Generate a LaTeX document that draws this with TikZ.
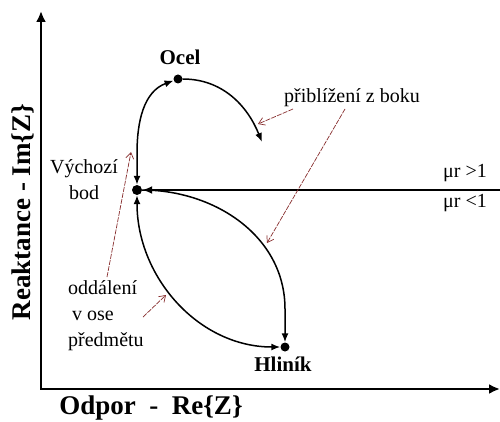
\documentclass[tikz,border=0pt]{standalone}
\usepackage{fontspec}
\setmainfont{Liberation Serif}
\usetikzlibrary{arrows.meta}
\definecolor{ptr}{RGB}{135,45,45}
\begin{document}
\begin{tikzpicture}[x=1pt,y=1pt,
  dot/.style={circle,fill=black,inner sep=0pt,minimum size=#1},
  dot/.default=9pt,
  curve/.style={line width=1.5pt},
  tip/.tip={Latex[length=9pt,width=7pt]},
  pointer/.style={draw=ptr,line width=0.7pt,dash pattern=on 5pt off 1.2pt,-{Straight Barb[length=6pt,width=8pt]}},
  lbl/.style={font=\fontsize{20}{26}\selectfont,inner sep=0pt},
  blbl/.style={font=\fontsize{21}{26}\selectfont\bfseries,inner sep=0pt},
  axlbl/.style={font=\fontsize{27}{30}\selectfont\bfseries,inner sep=0pt}
]
\useasboundingbox (0,0) rectangle (500,421);
% axes
\coordinate (org) at (41,32);
\coordinate (ytop) at (41,410);
\coordinate (xend) at (500,32);
\draw[line width=2.6pt,{Latex[length=11pt,width=10pt]}-{Latex[length=11pt,width=10pt]}] (ytop) -- (org) -- (xend);
% points
\node[dot=10pt] (S) at (137,231) {};
\node[dot] (O) at (178,342) {};
\node[dot] (H) at (285,74) {};
% mu_r line
\coordinate (rend) at (500,231);
\draw[line width=2.2pt,-{Latex[length=10pt,width=8pt]}] (rend) -- (S);
% curves
\coordinate (E1) at (262,279);
\coordinate (up1) at (137,268);
\coordinate (dn1) at (285,112);
\draw[curve,tip-tip] (O) to[out=200,in=90] (up1) -- (S);
\draw[curve,-tip] (O) to[out=0,in=112] (E1);
\draw[curve,tip-tip] (S) to[out=-90,in=180] (H);
\draw[curve,-tip] (S) to[out=0,in=90] (dn1) -- (H);
% labels
\node[blbl] (ocel) at (180,364) {Ocel};
\node[blbl,anchor=base] (hlinik) at (283,50) {Hliník};
\node[lbl] (pb) at (352,323) {přiblížení z boku};
\node[lbl,align=center] (vb) at (84,241) {Výchozí\\bod};
\node[lbl,align=left,anchor=west] (od) at (68,105) {oddálení\\\hspace{4pt}v ose\\předmětu};
\node[lbl] (mg) at (465,248) {μr >1};
\node[lbl] (ml) at (465,218) {μr <1};
\node[axlbl,anchor=base] (xl) at (151,7) {Odpor \ -\ \ Re\{Z\}};
\node[axlbl,anchor=base,rotate=90] (yl) at (30,209) {Reaktance - Im\{Z\}};
% pointers
\coordinate (p1s) at (293,312);
\coordinate (p1e) at (258,297);
\coordinate (p2s) at (345,312);
\coordinate (p2e) at (267,178);
\coordinate (p3s) at (107,144);
\coordinate (p3e) at (131,269);
\coordinate (p4s) at (143,104);
\coordinate (p4e) at (166,126);
\draw[pointer] (p1s) -- (p1e);
\draw[pointer] (p2s) -- (p2e);
\draw[pointer] (p3s) -- (p3e);
\draw[pointer] (p4s) -- (p4e);
\end{tikzpicture}
\end{document}
